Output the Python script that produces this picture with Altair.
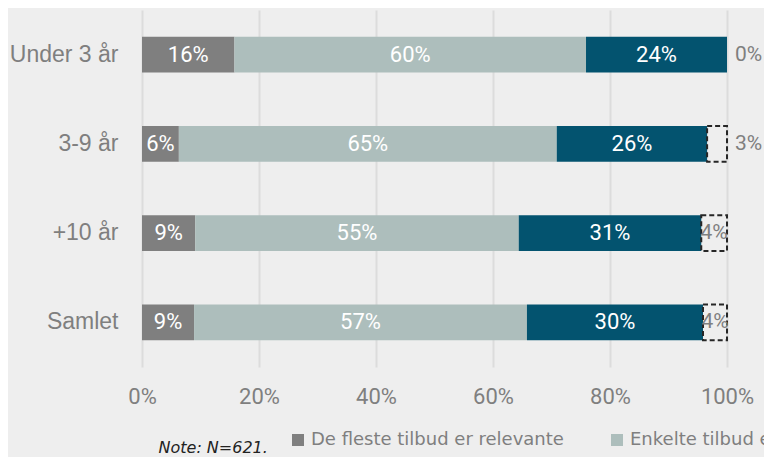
import altair as alt
import pandas as pd

groups = ["Under 3 år", "3-9 år", "+10 år", "Samlet"]
categories = ["De fleste tilbud er relevante", "Enkelte tilbud er relevante",
              "Ingen tilbud er relevante", "Ved ikke"]
fleste = [15.8, 6.3, 9.1, 8.9]
enkelte = [60.1, 64.6, 55.3, 56.9]
ingen = [24.1, 25.7, 31.2, 30.1]
vedikke = [0.0, 3.4, 4.4, 4.1]
colors = ["#7f7f7f", "#adbebc", "#03536f"]
x_ticks = [0, 20, 40, 60, 80, 100]

series = [fleste, enkelte, ingen, vedikke]
rows = []
for ci, (cat, vals) in enumerate(zip(categories, series)):
    for g, v in zip(groups, vals):
        rows.append(dict(group=g, category=cat, order=ci, value=v))
df = pd.DataFrame(rows)

FONT = "Roboto, Liberation Sans, sans-serif"
FONT_Y = "Liberation Sans, DejaVu Sans, sans-serif"
FONT_LEG = "DejaVu Sans, sans-serif"
GRAY = "#7f7f7f"

ysc = alt.Scale(domain=groups, paddingInner=0.6, paddingOuter=0.3)
xsc = alt.Scale(domain=[0, 100], nice=False)

y_axis = alt.Axis(title=None, domain=False, ticks=False, labelFontSize=23,
                  labelColor=GRAY, labelPadding=24, labelFont=FONT_Y, grid=False)
x_axis = alt.Axis(values=x_ticks, labelExpr="datum.value + '%'", grid=True,
                  gridColor="#dcdcdc", gridWidth=2, domain=False, ticks=False,
                  labelFontSize=22, labelColor=GRAY, labelFont=FONT,
                  labelPadding=29, labelBaseline="middle", labelFlush=False,
                  title="Note: N=621.", titleFontStyle="italic", titleFontSize=16,
                  titleColor="#222222", titleFontWeight="normal", titleAlign="left",
                  titleAnchor="start", titleX=16, titleY=80, titleBaseline="middle",
                  titleFont="DejaVu Sans, sans-serif")

Y = alt.Y("group:N", scale=ysc, sort=groups, axis=y_axis)

base = alt.Chart(df).transform_stack(
    stack="value", groupby=["group"], as_=["x0", "x1"],
    sort=[alt.SortField("order", order="ascending")]
).transform_calculate(
    mid="(datum.x0 + datum.x1) / 2",
    label="round(datum.value) + '%'"
)

bars = base.transform_filter("datum.order < 3").mark_bar().encode(
    y=Y,
    x=alt.X("x0:Q", scale=xsc, axis=x_axis),
    x2="x1:Q",
    color=alt.Color("category:N",
                    scale=alt.Scale(domain=categories[:3], range=colors),
                    legend=alt.Legend(orient="none", legendX=147, legendY=421,
                                      direction="horizontal", title=None,
                                      symbolType="square", symbolSize=144,
                                      symbolStrokeWidth=0,
                                      labelFontSize=18, labelColor=GRAY,
                                      labelFont=FONT_LEG, columnPadding=44,
                                      labelOffset=4, labelLimit=400)),
)

dashed = base.transform_filter("datum.order == 3 && datum.value > 0").mark_bar(
    fill="transparent", stroke="#262626", strokeWidth=2, strokeDash=[5, 3]
).encode(
    y=Y,
    x=alt.X("x0:Q", scale=xsc, axis=x_axis),
    x2="x1:Q",
)

inner = base.transform_filter("datum.order < 3").mark_text(
    color="white", font=FONT, fontSize=22
).encode(y=Y, x=alt.X("mid:Q", scale=xsc, axis=x_axis), text="label:N")

vk_in = base.transform_filter("datum.order == 3 && datum.value >= 3.5").mark_text(
    color=GRAY, font=FONT, fontSize=21
).encode(y=Y, x=alt.X("mid:Q", scale=xsc, axis=x_axis), text="label:N")

vk_out = base.transform_filter("datum.order == 3 && datum.value < 3.5").mark_text(
    color=GRAY, font=FONT, fontSize=21, align="left", dx=8
).encode(y=Y, x=alt.X("x1:Q", scale=xsc, axis=x_axis), text="label:N")

chart = alt.layer(bars, dashed, inner, vk_in, vk_out).properties(
    width=585, height=357,
    autosize=alt.AutoSizeParams(type="none"),
    padding={"left": 134, "top": 2, "right": 37, "bottom": 90},
    background="#eeeeee",
).configure_view(stroke=None)

chart.save("out.html", embed_options={"renderer": "svg", "actions": False})
